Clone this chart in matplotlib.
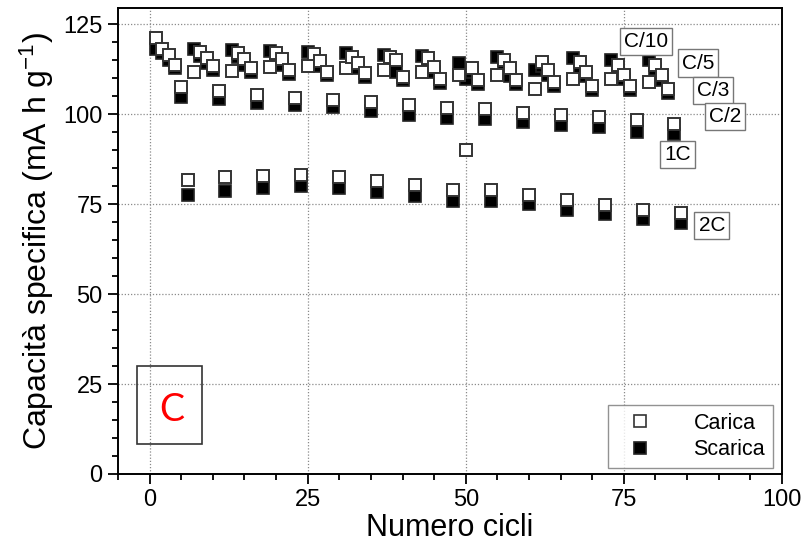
import matplotlib
matplotlib.use('Agg')
import matplotlib.pyplot as plt
from matplotlib.ticker import MultipleLocator
from matplotlib.patches import Rectangle
from matplotlib.lines import Line2D

plt.rcParams['font.family'] = ['Liberation Sans', 'DejaVu Sans']
plt.rcParams['mathtext.fontset'] = 'custom'
plt.rcParams['mathtext.rm'] = 'Liberation Sans'
plt.rcParams['mathtext.it'] = 'Liberation Sans:italic'

# ---- data ----
cycles = list(range(1, 85))
rates = ['C/10', 'C/5', 'C/3', 'C/2', '1C', '2C']

carica = [
    121.2, 118.1, 116.4, 113.8, 107.6, 81.7,
    111.6, 117.3, 115.6, 113.4, 106.5, 82.4,
    111.9, 116.9, 115.2, 112.7, 105.3, 82.8,
    113.2, 116.9, 115.2, 112.2, 104.5, 83.1,
    113.4, 116.6, 114.7, 111.8, 103.9, 82.4,
    112.9, 115.9, 114.1, 111.3, 103.4, 81.5,
    112.2, 115.9, 115.0, 110.4, 102.5, 80.3,
    111.8, 115.5, 113.1, 109.7, 101.6, 78.9,
    111.0, 90.0, 112.9, 109.4, 101.3, 78.9,
    110.8, 115.0, 112.7, 109.4, 100.2, 77.5,
    107.1, 114.6, 112.2, 109.0, 99.8, 76.1,
    109.9, 114.5, 111.8, 107.9, 99.3, 74.7,
    109.9, 113.8, 111.0, 107.8, 98.3, 73.5,
    109.0, 113.8, 110.8, 107.1, 97.4, 72.4,
]

scarica = [
    118.2, 117.0, 115.0, 112.8, 104.8, 77.5,
    118.2, 116.2, 114.3, 112.3, 104.2, 78.7,
    117.8, 115.8, 113.8, 111.8, 103.0, 79.6,
    117.5, 115.7, 113.8, 111.2, 102.5, 80.0,
    117.3, 115.5, 113.3, 110.8, 102.0, 79.4,
    116.9, 114.8, 112.8, 110.3, 101.0, 78.4,
    116.4, 114.6, 111.8, 109.4, 99.9, 77.2,
    116.2, 114.3, 111.8, 108.7, 98.8, 75.9,
    114.1, 109.9, 111.6, 108.4, 98.6, 75.9,
    115.9, 113.8, 110.5, 108.3, 97.7, 75.0,
    112.2, 113.3, 110.8, 107.9, 97.1, 73.5,
    115.5, 113.2, 110.5, 106.8, 96.5, 72.2,
    115.0, 112.6, 109.8, 106.7, 95.1, 71.0,
    115.0, 112.6, 109.6, 106.0, 94.6, 69.8,
]

# label anchor positions (data coords)
label_x = [78.5, 86.7, 89.1, 91.0, 83.5, 88.9]
label_y = [120.2, 114.2, 106.6, 99.4, 88.8, 69.1]

# ---- figure ----
fig = plt.figure(figsize=(8.11, 5.45), dpi=100)
ax = fig.add_axes([0.1455, 0.1303, 0.8187, 0.855])

ax.set_xlim(-5, 100)
ax.set_ylim(0, 129.5)
ax.xaxis.set_major_locator(MultipleLocator(25))
ax.xaxis.set_minor_locator(MultipleLocator(5))
ax.yaxis.set_major_locator(MultipleLocator(25))
ax.yaxis.set_minor_locator(MultipleLocator(5))
ax.tick_params(which='both', direction='out', top=False, right=False, width=1.3)
ax.tick_params(which='major', length=7, labelsize=17, pad=4)
ax.tick_params(which='minor', length=4)
for s in ax.spines.values():
    s.set_linewidth(1.4)

ax.grid(True, which='major', ls=(0, (1, 1.5)), color='#8a8a8a', lw=0.9)
ax.set_axisbelow(True)

ax.plot(cycles, scarica, 's', ms=8, mfc='black', mec='#222222', mew=1.2,
        ls='none', zorder=3)
ax.plot(cycles, carica, 's', ms=8, mfc='white', mec='#333333', mew=1.4,
        ls='none', zorder=4)

for t, x, y in zip(rates, label_x, label_y):
    ax.text(x, y, t, fontsize=15, ha='center', va='center', zorder=5,
            bbox=dict(boxstyle='square,pad=0.2', fc='white', ec='#777777', lw=1))

ax.set_xlabel('Numero cicli', fontsize=22, labelpad=1)
ax.set_ylabel('Capacità specifica (mA h g$^{-1}$)', fontsize=23, labelpad=5)

hc = Line2D([], [], marker='s', ls='none', ms=8, mfc='white', mec='#333333', mew=1.2)
hs = Line2D([], [], marker='s', ls='none', ms=8, mfc='black', mec='#222222', mew=1.2)
leg = ax.legend([hc, hs], ['Carica', 'Scarica'], loc='lower right',
                bbox_to_anchor=(0.986, 0.013), borderaxespad=0, fontsize=15.5,
                frameon=True, fancybox=False, edgecolor='#777777',
                handlelength=2.2, handletextpad=1.4, borderpad=0.35,
                labelspacing=0.25)
leg.get_frame().set_linewidth(1.0)
leg.set_zorder(6)

ax.add_patch(Rectangle((0.0286, 0.0644), 0.098, 0.1674, transform=ax.transAxes,
                       fill=False, ec='#333333', lw=1.2, zorder=6))
ax.text(0.0813, 0.137, 'C', transform=ax.transAxes, color='red', fontsize=27,
        family=['Lato', 'DejaVu Sans'], ha='center', va='center', zorder=7)

fig.savefig('out.png', dpi=100)
